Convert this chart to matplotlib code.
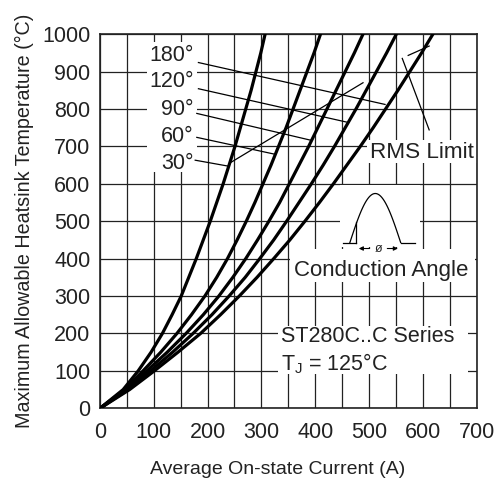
import matplotlib
matplotlib.use("Agg")
import matplotlib.pyplot as plt
from matplotlib.patches import Rectangle
import numpy as np

plt.rcParams['font.family'] = ['Liberation Sans', 'DejaVu Sans']
ink = '#222222'

# -------- curves (current in A at each level)
levels = [0, 50, 100, 150, 200, 250, 300, 350, 400, 450, 500,
          550, 600, 650, 700, 750, 800, 850, 900, 950, 1000]
i_30 = [0, 43, 71, 95, 116, 134, 151, 165, 179, 192, 205,
        217, 229, 240, 251, 261, 271, 281, 290, 299, 307]
i_60 = [0, 46, 80, 113, 143, 170, 195, 217, 237, 255, 272,
        288, 303, 318, 332, 346, 359, 372, 385, 398, 410]
i_90 = [0, 49, 87, 125, 160, 192, 221, 247, 271, 293, 314,
        334, 352, 370, 388, 405, 422, 439, 456, 473, 489]
i_120 = [0, 52, 94, 135, 173, 208, 240, 270, 297, 323, 347,
         370, 393, 415, 436, 456, 476, 495, 514, 533, 551]
i_180 = [0, 55, 101, 145, 187, 224, 259, 292, 323, 353, 381,
         408, 434, 459, 484, 508, 531, 554, 576, 598, 619]
curves = [i_30, i_60, i_90, i_120, i_180]

angle_labels = ['180°', '120°', '90°', '60°', '30°']
label_y = [943, 872, 799, 727, 655]
# leader lines (start x, start y, end x, end y)
leaders = [(183, 924, 530, 812), (183, 854, 458, 765), (180, 788, 393, 716),
           (180, 724, 325, 679), (177, 663, 239, 647)]

fig = plt.figure(figsize=(5, 4.87), dpi=100)
ax = fig.add_axes([0.2, 0.1616, 0.753, 0.7684])

ax.set_xlim(0, 700)
ax.set_ylim(0, 1000)
ax.set_xticks(np.arange(0, 701, 100))
ax.set_xticks(np.arange(0, 701, 50), minor=True)
ax.set_yticks(np.arange(0, 1001, 100))
ax.set_axisbelow(True)
ax.grid(True, which='both', color=ink, lw=0.9)
ax.tick_params(which='both', length=0)
ax.tick_params(axis='x', pad=10, labelsize=15.5, labelcolor=ink)
ax.tick_params(axis='y', pad=7, labelsize=15.5, labelcolor=ink)
for s in ax.spines.values():
    s.set_linewidth(1.2)
    s.set_color(ink)

# white patches over the grid where text sits
boxes = [(87, 632, 93, 347), (496, 655, 204, 62), (446, 430, 149, 167),
         (353, 337, 344, 88), (331, 92, 353, 127)]
for bx, by, bw, bh in boxes:
    ax.add_patch(Rectangle((bx, by), bw, bh, fc='white', ec='none', zorder=1.5))

for c in curves:
    ax.plot(c, levels, color='k', lw=2.3, zorder=3, solid_joinstyle='round')

for lab, ly in zip(angle_labels, label_y):
    ax.text(174, ly, lab, ha='right', va='center', fontsize=15.5, color=ink, zorder=4)
for x0, y0, x1, y1 in leaders:
    ax.plot([x0, x1], [y0, y1], color='k', lw=0.9, zorder=3)

# RMS limit
ax.plot([242, 489], [656, 870], color='k', lw=0.9, zorder=3)
ax.plot([573, 612], [943, 968], color='k', lw=0.9, zorder=3)
ax.plot([562, 612], [935, 744], color='k', lw=0.9, zorder=3)
ax.text(599, 684, 'RMS Limit', ha='center', va='center', fontsize=16.2, color=ink, zorder=4)

# conduction angle sketch
wx = np.linspace(464.6, 559, 60)
wy = 443 + 131 * np.sin(np.pi * (wx - 464.6) / (559 - 464.6))
ax.plot(wx, wy, color='k', lw=0.9, zorder=3)
ax.plot([476, 476], [443, 498], color='k', lw=0.9, zorder=3)
ax.plot([451, 476], [443, 443], color='k', lw=0.9, zorder=3)
ax.plot([559, 585], [443, 443], color='k', lw=0.9, zorder=3)
ax.annotate('', xy=(476, 427), xytext=(506, 427),
            arrowprops=dict(arrowstyle='-|>', lw=0.8, color='k', mutation_scale=6), zorder=3)
ax.annotate('', xy=(559, 427), xytext=(529, 427),
            arrowprops=dict(arrowstyle='-|>', lw=0.8, color='k', mutation_scale=6), zorder=3)
ax.text(517, 427, 'ø', ha='center', va='center', fontsize=9, color=ink, zorder=4)
ax.text(522, 368, 'Conduction Angle', ha='center', va='center', fontsize=16, color=ink, zorder=4)

ax.text(336, 191, 'ST280C..C Series', ha='left', va='center', fontsize=15.5, color=ink, zorder=4)
ax.text(336, 120, 'T$_\\mathregular{J}$ = 125°C', ha='left', va='center', fontsize=15.5, color=ink, zorder=4)

ax.set_xlabel('Average On-state Current (A)', fontsize=14, color=ink)
ax.xaxis.set_label_coords(0.473, -0.14)
ax.set_ylabel('Maximum Allowable Heatsink Temperature (°C)', fontsize=14.2, color=ink, labelpad=6)

fig.savefig('out.png', dpi=100)
